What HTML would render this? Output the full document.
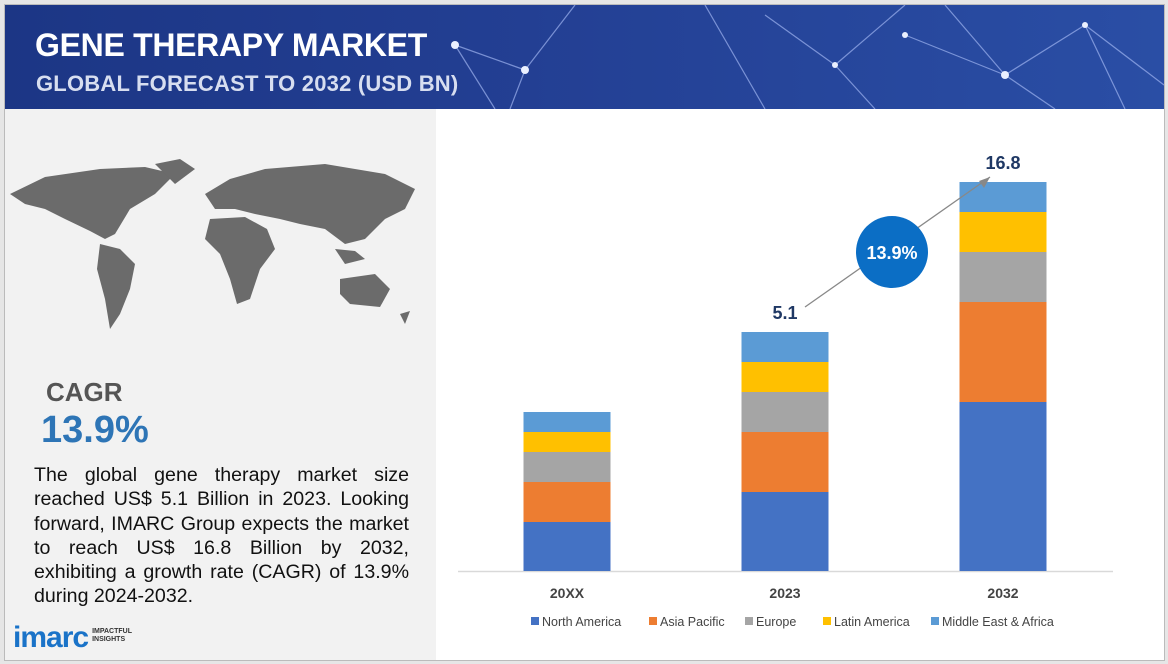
<!DOCTYPE html>
<html><head><meta charset="utf-8"><style>
body{margin:0;width:1168px;height:664px;background:#e6e6e6;font-family:"Liberation Sans",sans-serif;position:relative;overflow:hidden}
#frame{position:absolute;left:4px;top:4px;width:1159px;height:655px;background:#fff;border:1px solid #bbb}
#header{position:absolute;left:0;top:0;width:1159px;height:104px;background:linear-gradient(90deg,#1c3685 0%,#233f93 45%,#2a4ea5 100%);overflow:hidden}
#left{position:absolute;left:0;top:104px;width:431px;height:551px;background:#f2f2f2}
.t1{position:absolute;left:30px;top:22px;color:#fff;font-weight:bold;font-size:32px;letter-spacing:-0.3px}
.t2{position:absolute;left:31px;top:66px;color:#d7def0;font-weight:bold;font-size:22px;letter-spacing:0.2px}
</style></head><body>
<div id="frame">
<div id="header">
<svg width="1159" height="104" style="position:absolute;left:0;top:0">
<g stroke="#9fb4f0" stroke-width="1.2" opacity="0.7" fill="none">
<line x1="450" y1="40" x2="520" y2="65"/><line x1="520" y1="65" x2="570" y2="0"/><line x1="450" y1="40" x2="490" y2="104"/>
<line x1="520" y1="65" x2="505" y2="104"/><line x1="700" y1="0" x2="760" y2="104"/><line x1="760" y1="10" x2="830" y2="60"/>
<line x1="830" y1="60" x2="900" y2="0"/><line x1="830" y1="60" x2="870" y2="104"/><line x1="900" y1="30" x2="1000" y2="70"/>
<line x1="1000" y1="70" x2="1080" y2="20"/><line x1="1000" y1="70" x2="1050" y2="104"/><line x1="1080" y1="20" x2="1159" y2="80"/>
<line x1="940" y1="0" x2="1000" y2="70"/><line x1="1080" y1="20" x2="1120" y2="104"/></g>
<g fill="#eaf0ff"><circle cx="450" cy="40" r="4"/><circle cx="520" cy="65" r="4"/><circle cx="830" cy="60" r="3"/><circle cx="1000" cy="70" r="4"/><circle cx="1080" cy="20" r="3"/><circle cx="900" cy="30" r="3"/></g>
</svg>
<div class="t1">GENE THERAPY MARKET</div>
<div class="t2">GLOBAL FORECAST TO 2032 (USD BN)</div>
</div>
<div id="left">
<svg width="431" height="240" style="position:absolute;left:0;top:30px">
<g fill="#6b6b6b">
<path d="M5 55 L40 38 L95 30 L140 28 L170 35 L150 55 L125 70 L110 95 L100 100 L85 92 L60 80 L40 70 L20 65Z"/>
<path d="M150 25 L175 20 L190 30 L170 45 Z"/>
<path d="M95 105 L115 110 L130 125 L125 150 L115 175 L105 190 L100 160 L92 130Z"/>
<path d="M200 55 L225 40 L260 30 L320 25 L380 35 L410 50 L400 70 L380 80 L360 100 L340 105 L320 90 L295 85 L275 80 L250 75 L230 70 L210 70Z"/>
<path d="M205 80 L240 78 L262 90 L270 110 L255 130 L245 160 L232 165 L225 140 L215 115 L200 100Z"/>
<path d="M335 140 L370 135 L385 150 L375 168 L345 165 L335 155Z"/>
<path d="M330 110 L350 112 L360 120 L340 125Z"/>
<path d="M395 175 L405 172 L400 185 Z"/>
</g></svg>
<div style="position:absolute;left:41px;top:268px;font-size:26px;font-weight:bold;color:#555">CAGR</div>
<div style="position:absolute;left:36px;top:300px;font-size:38px;font-weight:bold;color:#2e75b6">13.9%</div>
<div style="position:absolute;left:29px;top:354px;width:375px;font-size:19.6px;line-height:24.3px;color:#111;text-align:justify">The global gene therapy market size reached US$ 5.1 Billion in 2023. Looking forward, IMARC Group expects the market to reach US$ 16.8 Billion by 2032, exhibiting a growth rate (CAGR) of 13.9% during 2024-2032.</div>
<div style="position:absolute;left:8px;top:512px;font-size:30px;font-weight:bold;color:#1a73c8;letter-spacing:-1px">imarc<span style="font-size:7px;color:#333;letter-spacing:0;display:inline-block;line-height:8px;margin-left:4px;vertical-align:6px">IMPACTFUL<br>INSIGHTS</span></div>
</div>
</div>
<svg id="chart" width="1168" height="664" style="position:absolute;left:0;top:0"></svg>
<script>
const categories=["20XX","2023","2032"];
const totals=["","5.1","16.8"];
const seriesNames=["North America","Asia Pacific","Europe","Latin America","Middle East & Africa"];
const northAmerica=[4.9,7.9,16.9];
const asiaPacific=[4.0,6.0,10.0];
const europe=[3.0,4.0,5.0];
const latinAmerica=[2.0,3.0,4.0];
const middleEast=[2.0,3.0,3.0];
const colors=["#4472c4","#ed7d31","#a5a5a5","#ffc000","#5b9bd5"];
const series=[northAmerica,asiaPacific,europe,latinAmerica,middleEast];
const svg=document.getElementById('chart');const NS="http://www.w3.org/2000/svg";
const base=571,unit=10,bw=87;
const xC=i=>567+i*218;const yV=v=>base-v*unit;
function mk(t,a){const e=document.createElementNS(NS,t);for(const k in a)e.setAttribute(k,a[k]);svg.appendChild(e);return e;}
const ax=mk('line',{x1:458,y1:571.5,x2:1113,y2:571.5,stroke:'#d9d9d9','stroke-width':1.5});


const tops=[];
categories.forEach((c,i)=>{let cum=0;
 series.forEach((s,j)=>{const r=mk('rect',{x:xC(i)-bw/2,y:yV(cum+s[i]),width:bw,height:s[i]*unit,fill:colors[j]});
 
 
 cum+=s[i];});
 tops.push(yV(cum));
 const t=mk('text',{x:xC(i),y:598,'text-anchor':'middle','font-size':14,'font-weight':'bold',fill:'#444'});t.textContent=c;
 
 
 if(totals[i]){const v=mk('text',{x:xC(i),y:tops[i]-13,'text-anchor':'middle','font-size':18,'font-weight':'bold',fill:'#1f3864'});v.textContent=totals[i];
 
 }
});
const ar=mk('line',{x1:xC(1)+20,y1:tops[1]-25,x2:xC(2)-13,y2:tops[2]-5,stroke:'#888','stroke-width':1.3});


const ah=mk('polygon',{points:`${xC(2)-13},${tops[2]-5} ${xC(2)-24},${tops[2]-1} ${xC(2)-19},${tops[2]+6}`,fill:'#888'});


const cc=mk('circle',{cx:892,cy:252,r:36,fill:'#0b6ec5'});


const ct=mk('text',{x:892,y:259,'text-anchor':'middle','font-size':18,'font-weight':'bold',fill:'#fff'});ct.textContent="13.9%";


const lx=[531,649,745,823,931];
seriesNames.forEach((n,j)=>{const r=mk('rect',{x:lx[j],y:617,width:8,height:8,fill:colors[j]});
 
 
 const t=mk('text',{x:lx[j]+11,y:626,'font-size':12.5,fill:'#444'});t.textContent=n;
 
 });
</script>
</body></html>
